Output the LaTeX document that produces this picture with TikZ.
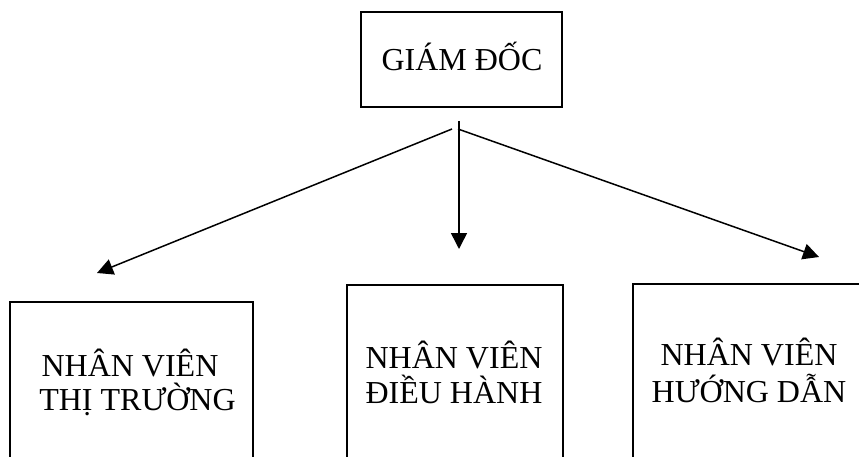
\documentclass[tikz,border=0pt]{standalone}
\usepackage{fontspec}
\setmainfont{Liberation Serif}
\usetikzlibrary{arrows.meta}
\begin{document}
\begin{tikzpicture}[x=1pt,y=-1pt,
  boxline/.style={draw=black,line width=1.7pt,rectangle,inner sep=0pt},
  lbl/.style={font=\fontsize{32}{34}\selectfont,anchor=base,inner sep=0pt},
  conn/.style={line width=1.5pt,-{Triangle[length=16pt,width=16pt]}}]
\useasboundingbox (0,0) rectangle (859,457);
\clip (0,0) rectangle (859,457);
% top box
\node[boxline,minimum width=201pt,minimum height=95pt] (gd) at (461.5,59.5) {};
\node[lbl] (gdt) at (462,71) {GIÁM ĐỐC};
% bottom boxes (cut by the lower and right edges)
\node[boxline,anchor=north west,minimum width=243pt,minimum height=200pt] (tt) at (9,301) {};
\node[boxline,anchor=north west,minimum width=216pt,minimum height=200pt] (dh) at (346,284) {};
\node[boxline,anchor=north west,minimum width=260pt,minimum height=200pt] (hd) at (632,283) {};
\node[lbl] (tt1) at (130,376) {NHÂN VIÊN};
\node[lbl] (tt2) at (137.5,410) {THỊ TRƯỜNG};
\node[lbl] (dh1) at (454,368) {NHÂN VIÊN};
\node[lbl] (dh2) at (454,403) {ĐIỀU HÀNH};
\node[lbl] (hd1) at (749,365) {NHÂN VIÊN};
\node[lbl] (hd2) at (749,402) {HƯỚNG DẪN};
% connectors
\coordinate (sv) at (459,121);
\coordinate (sl) at (452,129);
\coordinate (sr) at (458,129);
\coordinate (tl) at (97,273);
\coordinate (tm) at (459,249);
\coordinate (tr) at (819,257);
\draw[conn] (sl) -- (tl);
\draw[conn] (sv) -- (tm);
\draw[conn] (sr) -- (tr);
\end{tikzpicture}
\end{document}
